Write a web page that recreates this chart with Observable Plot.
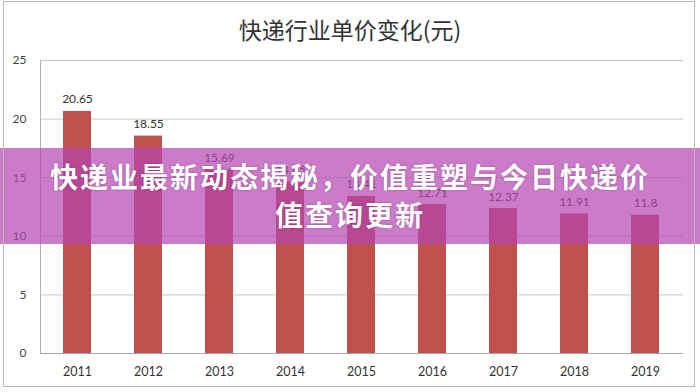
<!DOCTYPE html>
<html>
<head>
<meta charset="utf-8">
<script src="https://cdn.jsdelivr.net/npm/d3@7"></script>
<script src="https://cdn.jsdelivr.net/npm/@observablehq/plot@0.6"></script>
<style>
  html, body { margin: 0; padding: 0; background: #fff; }
  #wrap { position: relative; width: 700px; height: 392px; overflow: hidden; background: #fff; }
  #frame { position: absolute; left: 3px; top: 1px; width: 692px; height: 386px; border: 1px solid #b8b8b8; box-sizing: border-box; pointer-events: none; }
  #title { position: absolute; left: 0; top: 13px; width: 700px; text-align: center; font-family: "Noto Sans CJK SC", sans-serif; font-size: 23px; color: #333; line-height: 32px; }
  #chart { position: absolute; left: 0; top: 48px; }
  #banner { position: absolute; left: 0; top: 148px; width: 700px; height: 96px; background: rgba(181, 69, 176, 0.7); }
  #bannerText { position: absolute; left: 0; top: 157px; width: 700px; text-align: center; font-family: "Noto Sans CJK SC", sans-serif; font-weight: 700; font-size: 28px; line-height: 38px; color: #fff; letter-spacing: 2px; text-shadow: 0 0 2px rgba(90,20,90,0.5); }
</style>
</head>
<body>
<div id="wrap">
  <div id="title"></div>
  <div id="chart"></div>
  <div id="banner"></div>
  <div id="bannerText"></div>
  <div id="frame"></div>
</div>
<script>
const chartTitle = "快递行业单价变化(元)";
const bannerLine1 = "快递业最新动态揭秘，价值重塑与今日快递价";
const bannerLine2 = "值查询更新";
const years = ["2011", "2012", "2013", "2014", "2015", "2016", "2017", "2018", "2019"];
const prices = [20.65, 18.55, 15.69, 14.65, 13.41, 12.71, 12.37, 11.91, 11.8];
const priceLabels = ["20.65", "18.55", "15.69", "14.65", "13.41", "12.71", "12.37", "11.91", "11.8"];
const yTicks = [0, 5, 10, 15, 20, 25];

const data = years.map((y, i) => ({year: y, price: prices[i], label: priceLabels[i]}));

document.getElementById("title").textContent = chartTitle;
document.getElementById("bannerText").innerHTML = bannerLine1 + "<br>" + bannerLine2;

const plot = Plot.plot({
  width: 700,
  height: 344,
  marginTop: 12,
  marginBottom: 39,
  marginLeft: 40,
  marginRight: 17,
  style: {fontFamily: "Lato, 'Liberation Sans', sans-serif", fontSize: "12px", color: "#444", background: "transparent"},
  x: {domain: years, paddingInner: 0.6, paddingOuter: 0.3, label: null, tickSize: 0, tickPadding: 14},
  y: {domain: [0, 25], ticks: yTicks, label: null, tickSize: 0, tickPadding: 14},
  marks: [
    Plot.ruleY(yTicks.filter(d => d > 0), {stroke: "#c8c8c8", strokeWidth: 1}),
    Plot.frame({anchor: "left", stroke: "#b0b0b0"}),
    Plot.barY(data, {x: "year", y: "price", fill: "#C0504D"}),
    Plot.ruleY([0], {stroke: "#a8a8a8"}),
    Plot.text(data, {x: "year", y: "price", text: "label", lineAnchor: "bottom", dy: -8, fill: "#333", fontSize: 12}),
    Plot.axisY({ticks: yTicks, tickSize: 0, tickPadding: 14, fill: "#444", fontSize: 12}),
    Plot.axisX({tickSize: 0, tickPadding: 14, fill: "#333", fontSize: 12.5})
  ]
});
document.getElementById("chart").appendChild(plot);
</script>
</body>
</html>
